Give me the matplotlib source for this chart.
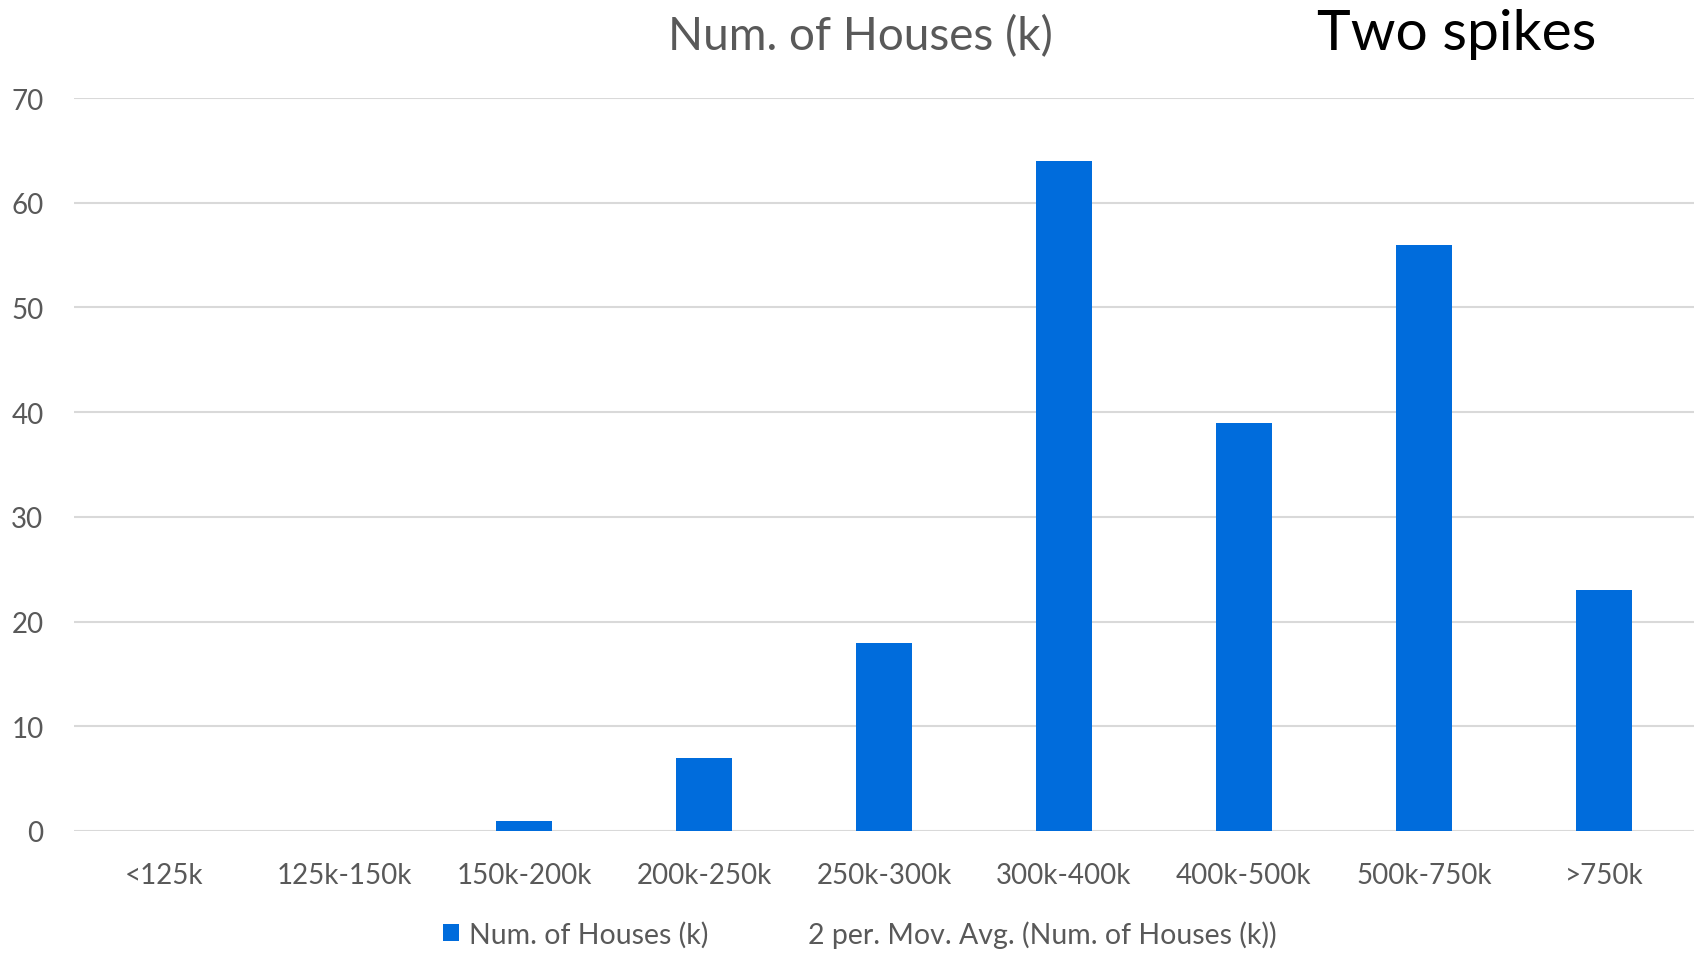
import numpy as np
import matplotlib.pyplot as plt
from matplotlib.patches import Patch
from matplotlib.lines import Line2D

price_bands = ['<125k', '125k-150k', '150k-200k', '200k-250k', '250k-300k',
               '300k-400k', '400k-500k', '500k-750k', '>750k']
num_houses = [0, 0, 1, 7, 18, 64, 39, 56, 23]

bar_color = '#006CDC'
text_color = '#595959'
grid_color = '#D9D9D9'

plt.rcParams['font.family'] = ['Lato', 'DejaVu Sans']

fig = plt.figure(figsize=(16.98, 9.54), dpi=100)
ax = fig.add_axes([74 / 1698, 1 - 832 / 954, 1620 / 1698, (832 - 99) / 954])

index = np.arange(len(price_bands))
ax.bar(index, num_houses, width=0.31, color=bar_color, zorder=3)

ax.set_xlim(-0.5, len(price_bands) - 0.5)
ax.set_ylim(0, 70)
ax.set_yticks(range(0, 71, 10))
ax.set_xticks(index, price_bands)
ax.yaxis.grid(True, color=grid_color, linewidth=1.5, zorder=0)
for side in ['top', 'right', 'left', 'bottom']:
    ax.spines[side].set_visible(False)
ax.tick_params(axis='both', length=0, labelsize=20, colors=text_color)
ax.tick_params(axis='y', pad=22)
ax.tick_params(axis='x', pad=22)

fig.text(860 / 1698, 1 - 37 / 954, 'Num. of Houses (k)', ha='center', va='center',
         fontsize=33, color=text_color)
fig.text(1457 / 1698, 1 - 35 / 954, 'Two spikes', ha='center', va='center',
         fontsize=41, color='black')

handles = [Patch(facecolor=bar_color),
           Line2D([], [], color='none')]
fig.legend(handles, ['Num. of Houses (k)', '2 per. Mov. Avg. (Num. of Houses (k))'],
           loc='center', bbox_to_anchor=(860 / 1698, 1 - 935 / 954), ncol=2,
           frameon=False, fontsize=20.5, labelcolor=text_color,
           handlelength=0.55, handleheight=0.55, handletextpad=0.35, columnspacing=2.6)

fig.savefig('out.png')
